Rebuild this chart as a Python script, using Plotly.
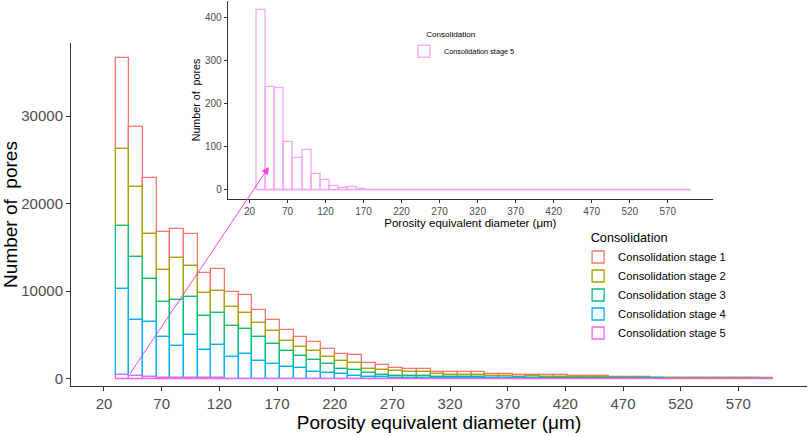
import numpy as np
import plotly.graph_objects as go

# ---------------- data ----------------
BIN_START = 30.0
BIN_WIDTH = 11.875
STAGES = ["Consolidation stage 1", "Consolidation stage 2", "Consolidation stage 3",
          "Consolidation stage 4", "Consolidation stage 5"]

stage1 = [10400, 6870, 6370, 4300, 3210, 3700, 2290, 2570, 1720, 2030, 1530, 1300, 1210, 1140,
          990, 880, 800, 820, 650, 500, 350, 370, 400, 310, 330, 270, 260, 220, 230, 190,
          150, 150, 140, 130, 130, 120, 90, 70, 60, 50, 40, 30, 25, 20, 15, 15, 13, 10]
stage2 = [8780, 7970, 5110, 3710, 4880, 3510, 2630, 2480, 2210, 1830, 1630, 1450, 1150, 1110,
          1070, 850, 830, 830, 510, 550, 510, 460, 460, 290, 290, 300, 310, 230, 170, 150,
          170, 160, 160, 150, 130, 110, 85, 60, 55, 48, 40, 32, 24, 20, 16, 12, 10, 8]
stage3 = [7170, 7130, 4880, 4030, 5260, 4350, 3810, 3620, 3510, 2860, 2670, 2285, 1830, 1370,
          1290, 940, 670, 680, 440, 320, 260, 240, 210, 160, 135, 120, 105, 90, 72, 65,
          68, 60, 52, 43, 34, 25, 21, 17, 12, 10, 8, 6, 5, 4, 3, 2, 1, 1]
stage4 = [9832, 6510, 6283, 4618, 3625, 4897, 3284, 3867, 2461, 2775, 2053, 1713, 1369, 1180,
          800, 680, 480, 320, 200, 130, 80, 60, 50, 40, 35, 30, 25, 20, 18, 15,
          12, 10, 8, 7, 6, 5, 4, 3, 3, 2, 2, 2, 1, 1, 1, 1, 1, 1]
stage5 = [418, 240, 237, 112, 75, 93, 36, 23, 9, 5, 7, 2, 1] + [0] * 35

x_ticks = [20, 70, 120, 170, 220, 270, 320, 370, 420, 470, 520, 570]
y_ticks_main = [0, 10000, 20000, 30000]
y_ticks_inset = [0, 100, 200, 300, 400]

COLORS = ["#F8766D", "#A3A500", "#00BF7D", "#00B0F6", "#EE66F0"]
INSET_PINK = "#F7A6F4"
ARROW_COLOR = "#F542E0"
ARROW_HEAD = (163.0, 24200.0)  # arrow tip (main-axis units), points into the inset

# ---------------- derived ----------------
series = [np.array(s, dtype=float) for s in (stage1, stage2, stage3, stage4, stage5)]
n_bins = len(stage1)
edges = BIN_START + BIN_WIDTH * np.arange(n_bins + 1)
centers = edges[:-1] + BIN_WIDTH / 2

FONT = "Liberation Sans, Arial, sans-serif"
fig = go.Figure()

# stacked rectangles: stage 5 at the bottom, stage 1 on top; draw top first so lower outlines sit on top
for i in range(5):
    base = np.sum(series[i + 1:], axis=0) if i < 4 else np.zeros(n_bins)
    fig.add_trace(go.Bar(
        x=centers, y=series[i], base=base, width=BIN_WIDTH, name=STAGES[i],
        marker=dict(color="rgba(255,255,255,0)", line=dict(color=COLORS[i], width=1.3)),
        xaxis="x", yaxis="y", legend="legend", hoverinfo="skip"))

fig.add_trace(go.Scatter(x=[edges[0], edges[-1]], y=[0, 0], mode="lines",
                         line=dict(color=COLORS[4], width=1.3), showlegend=False,
                         hoverinfo="skip", xaxis="x", yaxis="y"))

# inset
fig.add_trace(go.Bar(
    x=centers, y=series[4], width=BIN_WIDTH, name=STAGES[4],
    marker=dict(color="rgba(255,255,255,0)", line=dict(color=INSET_PINK, width=1.3)),
    xaxis="x2", yaxis="y2", legend="legend2", hoverinfo="skip"))
fig.add_trace(go.Scatter(x=[edges[0], edges[-1]], y=[0, 0], mode="lines",
                         line=dict(color=INSET_PINK, width=1.3), showlegend=False,
                         hoverinfo="skip", xaxis="x2", yaxis="y2"))

axis_common = dict(showgrid=False, zeroline=False, showline=True, linecolor="#333333",
                   linewidth=1, ticks="outside", tickcolor="#333333", tickwidth=1)

NB = "\u00a0"
fig.update_layout(
    width=809, height=437,
    margin=dict(l=71, r=2, t=1, b=51),
    paper_bgcolor="white", plot_bgcolor="white",
    barmode="overlay", bargap=0,
    font=dict(family=FONT, color="black"),
    xaxis=dict(domain=[0, 1], anchor="y", range=[-8.6, 629.5], tickvals=x_ticks,
               ticklen=4, tickfont=dict(size=15, color="#4D4D4D"),
               title=dict(text="Porosity equivalent diameter (μm)", font=dict(size=19, color="black"),
                          standoff=1),
               **axis_common),
    yaxis=dict(domain=[0, 343 / 385], anchor="x", range=[-847, 38360], tickvals=y_ticks_main,
               tickformat="d", ticklen=4, tickfont=dict(size=15, color="#4D4D4D"),
               title=dict(text="Number of  pores", font=dict(size=19, color="black"), standoff=2),
               **axis_common),
    xaxis2=dict(domain=[0.2129, 0.8723], anchor="y2", range=[-8.6, 629.5], tickvals=x_ticks,
                ticklen=3, tickfont=dict(size=10, color="#4D4D4D"),
                title=dict(text="Porosity equivalent diameter (μm)", font=dict(size=11.5, color="black"),
                           standoff=1),
                **axis_common),
    yaxis2=dict(domain=[0.4857, 1], anchor="x2", range=[-21, 439], tickvals=y_ticks_inset,
                tickformat="d", ticklen=3, tickfont=dict(size=10, color="#4D4D4D"),
                title=dict(text="Number of  pores", font=dict(size=10.7, color="black"), standoff=2),
                **axis_common),
    legend=dict(x=0.689, y=0.4156, xanchor="left", yanchor="top", traceorder="normal",
                bgcolor="rgba(0,0,0,0)", font=dict(size=11.2, color="black"),
                title=dict(text=NB * 3 + "Consolidation", font=dict(size=12.7, color="black"))),
    legend2=dict(x=0.4524, y=0.935, xanchor="left", yanchor="top",
                 bgcolor="rgba(0,0,0,0)", font=dict(size=7.3, color="black"),
                 title=dict(text=NB * 9 + "Consolidation", font=dict(size=8.1, color="black"))),
    annotations=[dict(x=ARROW_HEAD[0], y=ARROW_HEAD[1], xref="x", yref="y",
                      ax=edges[1], ay=stage5[0], axref="x", ayref="y",
                      text="", showarrow=True, arrowhead=2, arrowsize=1.5, arrowwidth=1,
                      arrowcolor=ARROW_COLOR, standoff=0, startstandoff=0)],
)

fig.write_html("out.html", config={"displayModeBar": False},
               post_script="document.body.style.margin='0';document.body.style.padding='0';")
